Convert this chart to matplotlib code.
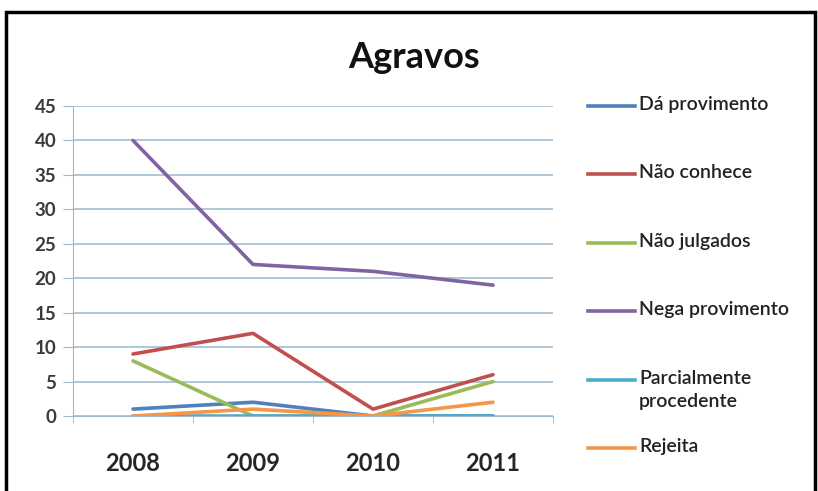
import numpy as np
import matplotlib.pyplot as plt
from matplotlib.patches import Rectangle
from matplotlib.lines import Line2D

anos = ['2008', '2009', '2010', '2011']
series = ['Dá provimento', 'Não conhece', 'Não julgados', 'Nega provimento',
          'Parcialmente\nprocedente', 'Rejeita']
da_provimento = [1, 2, 0, 0]
nao_conhece = [9, 12, 1, 6]
nao_julgados = [8, 0, 0, 5]
nega_provimento = [40, 22, 21, 19]
parcialmente = [0, 0, 0, 0]
rejeita = [0, 1, 0, 2]
valores = [da_provimento, nao_conhece, nao_julgados, nega_provimento, parcialmente, rejeita]
cores = ['#4F81BD', '#C0504D', '#9BBB59', '#8064A2', '#4BACC6', '#F79646']
yticks = [0, 5, 10, 15, 20, 25, 30, 35, 40, 45]

plt.rcParams['font.family'] = ['Lato', 'DejaVu Sans']

W, H = 818, 491
fig = plt.figure(figsize=(W / 100, H / 100), dpi=100)
fig.patch.set_facecolor('white')
# moldura preta do gráfico
fig.patches.append(Rectangle((6 / W, -0.05), 809 / W, 1.05 - 12 / H, transform=fig.transFigure,
                             fill=False, edgecolor='black', linewidth=2.5))

ax = fig.add_axes([73 / W, 1 - 416 / H, 480 / W, 310 / H])
x = np.arange(len(anos))
for nome, v, c in zip(series, valores, cores):
    ax.plot(x, v, color=c, linewidth=2.6, label=nome, solid_capstyle='round')

ax.set_xlim(-0.5, 3.5)
ax.set_ylim(0, 45)
ax.set_yticks(yticks)
ax.set_xticks(x)
ax.set_xticklabels(anos, fontsize=17, fontweight='bold', color='#262626')
ax.set_xticks(np.arange(-0.5, 4, 1), minor=True)
ax.tick_params(axis='x', which='major', length=0, pad=26)
ax.tick_params(axis='x', which='minor', length=5, color='#9DB7CC', direction='out')
ax.tick_params(axis='y', length=7, color='#9DB7CC', labelsize=13.5, labelcolor='#3A3A3A', pad=5)
for lab in ax.get_yticklabels():
    lab.set_fontweight('bold')
ax.grid(axis='y', color='#A8C3D6', linewidth=1.3)
ax.set_axisbelow(True)
for s in ['top', 'right']:
    ax.spines[s].set_visible(False)
ax.spines['left'].set_color('#9DB7CC')
ax.spines['bottom'].set_color('#9DB7CC')

fig.text(414 / W, 1 - 57 / H, 'Agravos', ha='center', va='center',
         fontsize=26, fontweight='bold', color='#111111')

# legenda ao estilo Excel: entradas distribuídas por igual
for i, (nome, c) in enumerate(zip(series, cores)):
    yc = 1 - (106 + 68.4 * i) / H
    fig.add_artist(Line2D([588 / W, 635 / W], [yc, yc], color=c, linewidth=2.6,
                          transform=fig.transFigure))
    fig.text(639 / W, yc + 10 / H, nome, ha='left', va='top', fontsize=14,
             fontweight='semibold', color='#222222', linespacing=1.45)

fig.savefig('out.png', dpi=100)
